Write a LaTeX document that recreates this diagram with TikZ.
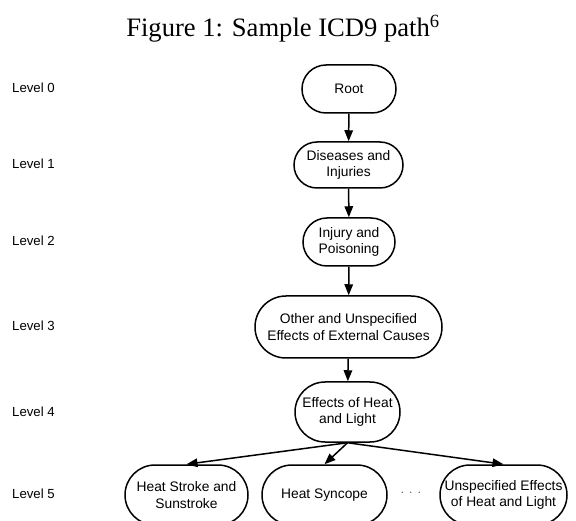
\documentclass[tikz,border=0pt]{standalone}
\usepackage{fontspec}
\setmainfont{Liberation Sans}
\newfontfamily\titlefont{Liberation Serif}
\usetikzlibrary{arrows.meta}
\tikzset{
  box/.style={draw, line width=1.5pt, rounded corners=23pt, align=center, inner sep=0pt,
    font=\fontsize{13.8}{16.7}\selectfont},
  lvl/.style={anchor=west, inner sep=0pt, font=\fontsize{13.2}{15}\selectfont},
  arr/.style={line width=1.5pt, -{Triangle[length=11pt,width=8.5pt]}}
}
\begin{document}
\begin{tikzpicture}[x=1pt,y=-1pt]
\useasboundingbox (0,0) rectangle (576,521);
\clip (0,0) rectangle (576,521);
\node[anchor=base, inner sep=0pt, font=\titlefont\fontsize{26.6}{30}\selectfont] (title) at (283,37) {Figure 1: Sample ICD9 path\textsuperscript{6}};
\node[lvl] (l0) at (12,88) {Level 0};
\node[lvl] (l1) at (12,164) {Level 1};
\node[lvl] (l2) at (12,241) {Level 2};
\node[lvl] (l3) at (12,326) {Level 3};
\node[lvl] (l4) at (12,412) {Level 4};
\node[lvl] (l5) at (12,494) {Level 5};
\node[box, minimum width=94pt, minimum height=48pt, rounded corners=24pt] (root) at (349,89) {Root};
\node[box, minimum width=109pt, minimum height=46pt, rounded corners=23pt] (dis) at (348.5,165) {Diseases and\\Injuries};
\node[box, minimum width=92pt, minimum height=48pt, rounded corners=24pt] (inj) at (349,242) {Injury and\\Poisoning};
\node[box, minimum width=187pt, minimum height=62pt, rounded corners=31pt] (oth) at (348.5,327) {Other and Unspecified\\Effects of External Causes};
\node[box, minimum width=105pt, minimum height=60pt, rounded corners=30pt] (eff) at (347.5,412) {Effects of Heat\\and Light};
\node[box, minimum width=123pt, minimum height=60pt, rounded corners=30pt] (hs) at (186.5,495) {Heat Stroke and\\Sunstroke};
\node[box, minimum width=125pt, minimum height=60pt, rounded corners=30pt] (sync) at (324.5,495) {Heat Syncope};
\node[box, minimum width=127pt, minimum height=60pt, rounded corners=30pt] (unsp) at (503.5,495) {Unspecified Effects\\of Heat and Light};
\node[inner sep=0pt, font=\fontsize{11}{13}\selectfont] (dots) at (411,493) {$\cdot\ \cdot\ \cdot$};
\draw[arr] (root) -- (dis);
\draw[arr] (dis) -- (inj);
\draw[arr] (inj) -- (oth);
\draw[arr] (oth) -- (eff);
\draw[arr] (eff.south) -- (hs.north);
\draw[arr] (eff.south) -- (sync.north);
\draw[arr] (eff.south) -- (unsp.north);
\end{tikzpicture}
\end{document}
